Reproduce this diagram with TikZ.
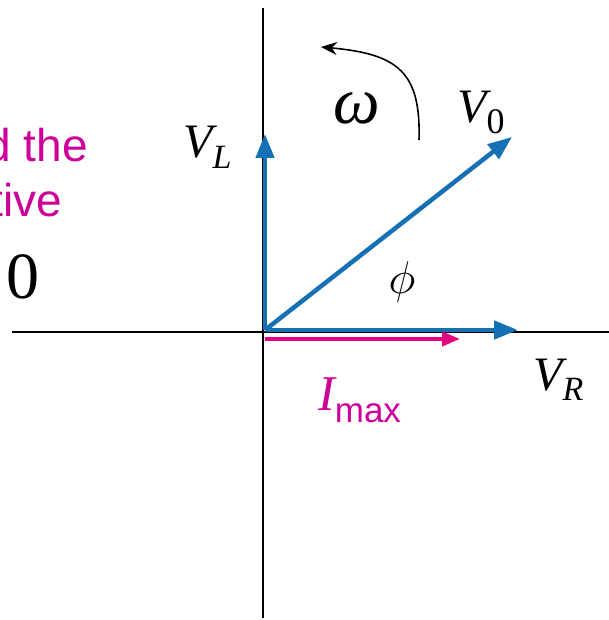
\RequirePackage{fix-cm}
\documentclass[tikz,border=0pt]{standalone}
\usepackage{fontspec}
\setmainfont{Liberation Serif}
\newfontfamily\arial{Liberation Sans}
\usetikzlibrary{arrows.meta}
\definecolor{phasorblue}{RGB}{22,112,180}
\definecolor{curmag}{RGB}{232,0,130}
\definecolor{txtmag}{RGB}{204,0,153}
\tikzset{
  phasor/.style={phasorblue,line width=4.5pt,-{Triangle[length=24pt,width=18pt]}},
  current/.style={curmag,line width=4pt,-{Triangle[length=18pt,width=14pt]}},
  axis/.style={black,line width=1.4pt},
  lab/.style={inner sep=0pt,anchor=base west,font=\fontsize{48}{48}\selectfont\itshape},
  side/.style={inner sep=0pt,anchor=base east,txtmag,font=\fontsize{46}{46}\selectfont\arial},
}
\begin{document}
\begin{tikzpicture}[x=1pt,y=-1pt]
	\useasboundingbox (0,0) rectangle (609,620);
	
	\coordinate (xl) at (12,332);
	\coordinate (xr) at (609,332);
	\coordinate (yt) at (263,8);
	\coordinate (yb) at (263,618);
	\draw[axis] (xl) -- (xr);
	\draw[axis] (yt) -- (yb);
	
	\coordinate (O) at (265,330);
	\coordinate (tipL) at (265,134);
	\coordinate (tip0) at (512,137);
	\coordinate (tipR) at (518,330);
	\draw[phasor] (O) -- (tipL);
	\draw[phasor] (O) -- (tip0);
	\draw[phasor] (O) -- (tipR);
	
	\coordinate (Ic) at (265,339);
	\coordinate (tipI) at (460,339);
	\draw[current] (Ic) -- (tipI);
	
	\coordinate (wstart) at (419,140);
	\coordinate (wend) at (321,47);
	\draw[black,line width=1.6pt,-{Stealth[length=16pt,width=13pt]}] (wstart) .. controls (421,72) and (398,54) .. (wend);
	
	\node[lab] (VL) at (183,158) {V\raisebox{-11pt}{\fontsize{34}{34}\selectfont L}};
	\node[lab] (V0) at (457,123) {V\raisebox{-11pt}{\fontsize{36}{36}\selectfont\upshape 0}};
	\node[lab] (VR) at (533,390) {V\raisebox{-10pt}{\fontsize{34}{34}\selectfont R}};
	\node[lab,font=\fontsize{50}{50}\selectfont\itshape,txtmag] (Imax) at (318,410) {I\raisebox{-12pt}{\fontsize{35}{35}\selectfont\arial\upshape max}};
	\node[lab,font=\fontsize{66}{66}\selectfont\itshape] (omega) at (333,124) {ω};
	\node[inner sep=0pt,font=\fontsize{46}{46}\selectfont] (phi) at (402,282) {$\phi$};
	
	\node[side] (line1) at (88,162) {d the};
	\node[side] (line2) at (62,217) {tive};
	\node[inner sep=0pt,anchor=base west,font=\fontsize{66}{66}\selectfont] (zero) at (6,298) {0};
\end{tikzpicture}
\end{document}
